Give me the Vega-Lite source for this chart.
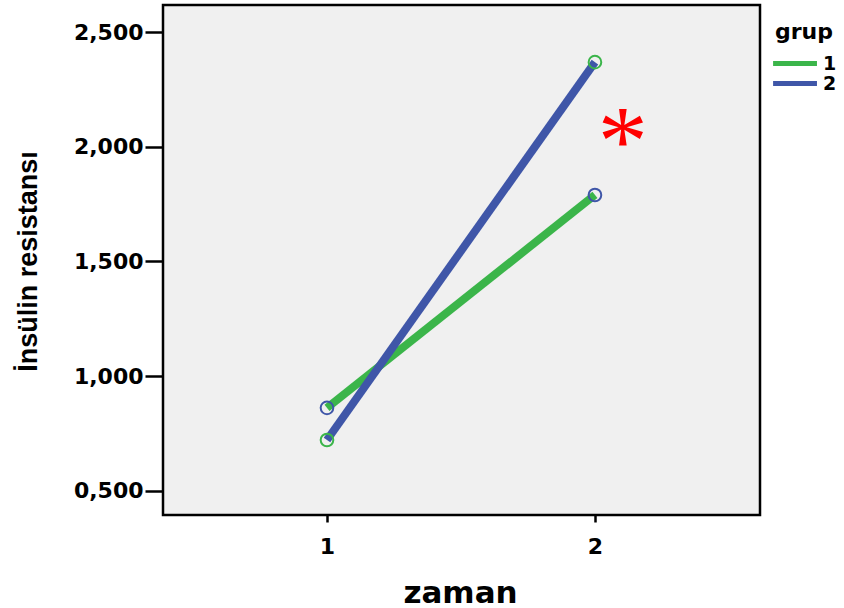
{
  "$schema": "https://vega.github.io/schema/vega-lite/v6.json",
  "width": 597,
  "height": 510,
  "autosize": {"type": "none"},
  "padding": {"left": 163, "top": 5, "right": 84, "bottom": 93},
  "background": "white",
  "config": {
    "view": {"fill": "#f0f0f0", "stroke": "black", "strokeWidth": 2.5},
    "axis": {
      "grid": false,
      "domain": false,
      "tickColor": "black",
      "tickWidth": 2.5,
      "labelColor": "black",
      "labelFont": "DejaVu Sans",
      "labelFontWeight": "bold",
      "labelFontSize": 22,
      "titleColor": "black"
    }
  },
  "layer": [
    {
      "data": {"values": [
        {"zaman": 1, "grup": "1", "deger": 0.862},
        {"zaman": 2, "grup": "1", "deger": 1.790},
        {"zaman": 1, "grup": "2", "deger": 0.722},
        {"zaman": 2, "grup": "2", "deger": 2.369}
      ]},
      "layer": [
        {
          "mark": {"type": "line", "strokeWidth": 8, "strokeCap": "butt"},
          "encoding": {
            "x": {
              "field": "zaman", "type": "quantitative",
              "scale": {"domain": [0.388, 2.616], "nice": false, "zero": false},
              "axis": {
                "values": [1, 2], "format": "d", "tickSize": 7, "labelPadding": 14,
                "title": "zaman", "titleFont": "DejaVu Sans", "titleFontWeight": "bold",
                "titleFontSize": 31, "titleX": 297, "titleY": 87,
                "titleBaseline": "alphabetic", "titleAlign": "center"
              }
            },
            "y": {
              "field": "deger", "type": "quantitative",
              "scale": {"domain": [0.395, 2.618], "nice": false, "zero": false},
              "axis": {
                "values": [0.5, 1, 1.5, 2, 2.5],
                "labelExpr": "replace(format(datum.value, '.3f'), '.', ',')",
                "tickSize": 18, "labelPadding": 2,
                "title": "İnsülin resistansı",
                "titleFont": "Liberation Sans Narrow, Arial Narrow, sans-serif",
                "titleFontWeight": "bold", "titleFontSize": 27,
                "titleX": -127, "titleY": 256, "titleAngle": -90,
                "titleBaseline": "alphabetic", "titleAlign": "center"
              }
            },
            "color": {
              "field": "grup", "type": "nominal",
              "scale": {"domain": ["1", "2"], "range": ["#3bb54a", "#3f56a8"]},
              "legend": {
                "orient": "none", "legendX": 612, "legendY": 17,
                "title": "grup", "titleFont": "DejaVu Sans", "titleFontWeight": "bold",
                "titleFontSize": 22, "titleColor": "black", "titlePadding": 10,
                "labelFont": "DejaVu Sans", "labelFontWeight": "bold", "labelFontSize": 19,
                "labelColor": "black", "labelOffset": 29,
                "symbolType": "M-2.6,0H7.4", "symbolSize": 77, "symbolStrokeWidth": 5,
                "rowPadding": -1
              }
            }
          }
        },
        {
          "mark": {"type": "point", "shape": "circle", "filled": false, "size": 160, "strokeWidth": 2, "opacity": 1},
          "encoding": {
            "x": {"field": "zaman", "type": "quantitative"},
            "y": {"field": "deger", "type": "quantitative"},
            "stroke": {
              "field": "grup", "type": "nominal",
              "scale": {"domain": ["1", "2"], "range": ["#3f56a8", "#3bb54a"]},
              "legend": null
            }
          }
        }
      ]
    },
    {
      "data": {"values": [{"zaman": 2.104, "deger": 2.082, "isaret": "*"}]},
      "mark": {"type": "text", "color": "#ff0000", "font": "Liberation Serif", "fontSize": 100, "baseline": "middle", "align": "center", "dy": 16},
      "encoding": {
        "x": {"field": "zaman", "type": "quantitative"},
        "y": {"field": "deger", "type": "quantitative"},
        "text": {"field": "isaret"}
      }
    }
  ]
}
